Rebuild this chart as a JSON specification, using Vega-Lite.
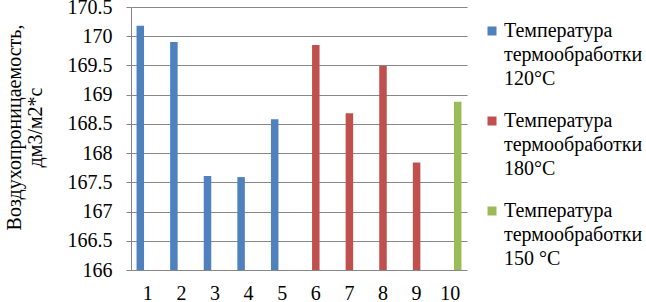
{
  "$schema": "https://vega.github.io/schema/vega-lite/v6.json",
  "autosize": "none",
  "width": 336,
  "height": 263,
  "padding": {"left": 131, "top": 7, "right": 179, "bottom": 32},
  "background": "white",
  "data": {
    "values": [
      {"n": "1", "series": "120°C", "v": 170.18},
      {"n": "2", "series": "120°C", "v": 169.9},
      {"n": "3", "series": "120°C", "v": 167.61},
      {"n": "4", "series": "120°C", "v": 167.59},
      {"n": "5", "series": "120°C", "v": 168.58},
      {"n": "6", "series": "180°C", "v": 169.85},
      {"n": "7", "series": "180°C", "v": 168.68},
      {"n": "8", "series": "180°C", "v": 169.49},
      {"n": "9", "series": "180°C", "v": 167.84},
      {"n": "10", "series": "150 °C", "v": 168.88}
    ]
  },
  "mark": {"type": "bar", "clip": true},
  "encoding": {
    "x": {
      "field": "n",
      "type": "nominal",
      "sort": null,
      "scale": {"paddingInner": 0.33, "paddingOuter": 0.165},
      "axis": {
        "title": null,
        "labelAngle": 0,
        "ticks": false,
        "domain": false,
        "labelFontSize": 20,
        "labelColor": "#000000",
        "labelPadding": 13
      }
    },
    "xOffset": {
      "field": "series",
      "type": "nominal",
      "scale": {"domain": ["120°C", "180°C", "150 °C"], "paddingInner": 0, "paddingOuter": 0}
    },
    "y": {
      "field": "v",
      "type": "quantitative",
      "scale": {"domain": [166, 170.5], "zero": false, "nice": false},
      "axis": {
        "values": [166, 166.5, 167, 167.5, 168, 168.5, 169, 169.5, 170, 170.5],
        "format": ".1~f",
        "title": ["Воздухопроницаемость,", "дм3/м2*с"],
        "titleFontSize": 20,
        "titleFontWeight": "normal",
        "titleColor": "#000000",
        "titleLineHeight": 21,
        "titlePadding": 22,
        "titleY": 120,
        "labelFontSize": 20,
        "labelColor": "#000000",
        "labelPadding": 14,
        "tickSize": 5,
        "tickColor": "#878787",
        "domainColor": "#878787",
        "gridColor": "#878787",
        "gridOpacity": 1,
        "grid": true
      }
    },
    "y2": {"datum": 166},
    "color": {
      "field": "series",
      "type": "nominal",
      "scale": {"domain": ["120°C", "180°C", "150 °C"], "range": ["#4F81BD", "#C0504D", "#9BBB59"]},
      "legend": {
        "title": null,
        "orient": "right",
        "offset": 1,
        "padding": 14,
        "symbolType": "square",
        "symbolSize": 81,
        "symbolStrokeWidth": 0,
        "labelFontSize": 20,
        "labelColor": "#000000",
        "labelLimit": 0,
        "labelExpr": "['Температура', 'термообработки', datum.label]",
        "rowPadding": 22,
        "labelOffset": 2
      }
    }
  },
  "config": {
    "font": "Liberation Serif",
    "view": {"stroke": null},
    "axis": {"labelFont": "Liberation Serif", "titleFont": "Liberation Serif"},
    "legend": {"labelFont": "Liberation Serif"},
    "style": {"guide-label": {"font": "Liberation Serif", "lineHeight": 24}}
  }
}
